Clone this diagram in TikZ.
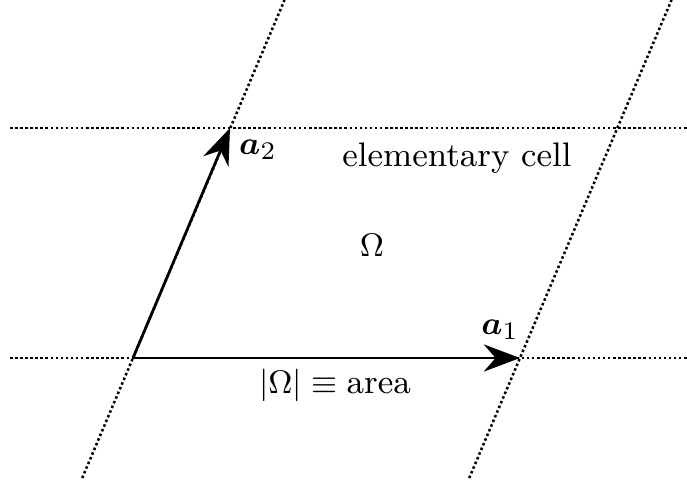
\documentclass[tikz,border=0pt]{standalone}
\usepackage{amsmath,amssymb,bm}
\usetikzlibrary{arrows.meta}

\tikzset{
  latline/.style={line width=0.7pt, dash pattern=on 0.7pt off 0.7pt},
  basisvec/.style={-{Stealth[length=10pt,width=7.5pt]}, line width=0.75pt},
}

\begin{document}
\begin{tikzpicture}[x=0.971cm,y=0.971cm,font=\fontsize{9.4}{11}\selectfont]
    \useasboundingbox (0,0) rectangle (6.87,4.86);
    % lattice points and line ends
    \coordinate (O)  at (1.33,1.28);
    \coordinate (A1) at (5.20,1.28);
    \coordinate (A2) at (2.30,3.58);
    \coordinate (hl1) at (0.10,1.28);
    \coordinate (hr1) at (6.87,1.28);
    \coordinate (hl2) at (0.10,3.58);
    \coordinate (hr2) at (6.87,3.58);
    \coordinate (sb1) at (0.822,0.08);
    \coordinate (st1) at (2.845,4.86);
    \coordinate (sb2) at (4.692,0.08);
    \coordinate (st2) at (6.715,4.86);
    % lattice lines
    \draw[latline] (hl1) -- (hr1);
    \draw[latline] (hl2) -- (hr2);
    \draw[latline] (sb1) -- (st1);
    \draw[latline] (sb2) -- (st2);
    % basis vectors
    \draw[basisvec] (O) -- (A1);
    \draw[basisvec] (O) -- (A2);
    % labels
    \node (la1)   at (5.00,1.56) {$\bm{a}_1$};
    \node (la2)   at (2.58,3.36) {$\bm{a}_2$};
    \node (cell)  at (4.57,3.28) {elementary cell};
    \node (omega) at (3.72,2.41) {$\Omega$};
    \node (area)  at (3.35,1.01) {$|\Omega| \equiv \text{area}$};
\end{tikzpicture}
\end{document}
